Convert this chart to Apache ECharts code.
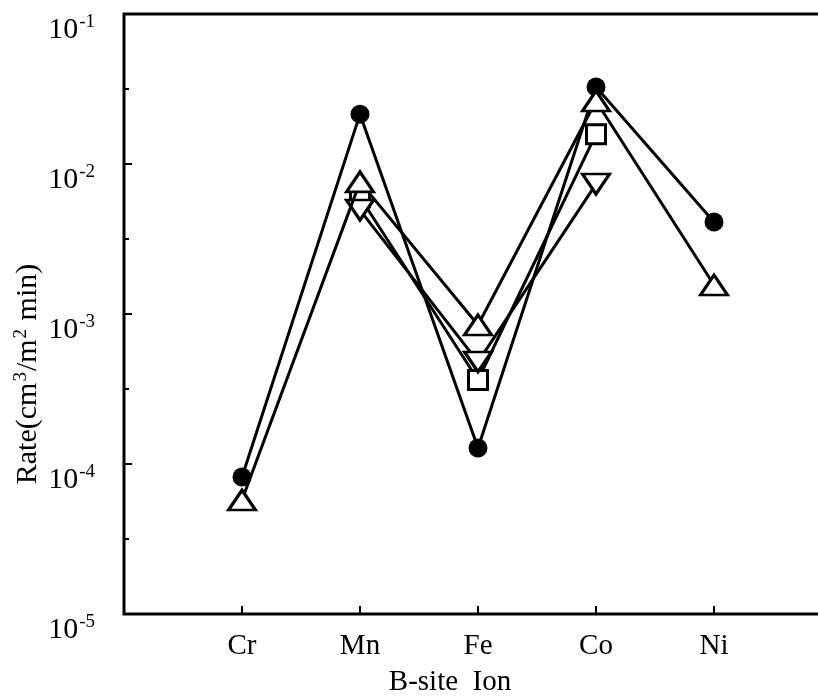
<!DOCTYPE html>
<html>
<head>
<meta charset="utf-8">
<script src="https://cdn.jsdelivr.net/npm/echarts@6/dist/echarts.min.js"></script>
<style>
  html, body { margin: 0; padding: 0; background: #fff; overflow: hidden; }
  /* plot frame runs past the right edge of the page */
  #chart { width: 832px; height: 696px; }
</style>
</head>
<body>
<div id="chart"></div>
<script>
// B-site ions along the x axis (positions 1..5)
const ions = ['Cr', 'Mn', 'Fe', 'Co', 'Ni'];
const ionPos = [1, 2, 3, 4, 5];

// Rates, cm3/(m2 min); null where no measurement
const filledCircle = [8.2e-5, 0.0215, 1.28e-4, 0.0326, 0.0041];
const openTriangle = [5.75e-5, 0.0076, 8.45e-4, 0.0263, 0.00156];
const openSquare = [null, 0.0060, 3.63e-4, 0.0158, null];
const openDownTriangle = [null, 0.00493, 4.79e-4, 0.00735, null];

// Range of the rate axis (decades)
const rateMin = 1e-5;
const rateMax = 1e-1;
// Exponent range for the half-decade tick marks
const expMin = -5;
const expMax = -1;

const FONT = '"Liberation Serif", "DejaVu Serif", serif';

function pairs(vals) {
  const out = [];
  vals.forEach((v, i) => { if (v !== null) out.push([ionPos[i], v]); });
  return out;
}

function lineSeries(name, vals, symbol, size, filled, rotate, z) {
  return {
    name: name,
    type: 'line',
    data: pairs(vals),
    symbol: symbol,
    symbolSize: size,
    symbolRotate: rotate || 0,
    showAllSymbol: true,
    z: z,
    lineStyle: { color: '#000', width: 3 },
    itemStyle: {
      color: filled ? '#000' : '#fff',
      borderColor: '#000',
      borderWidth: filled ? 0 : 3
    },
    emphasis: { disabled: true },
    animation: false
  };
}

const chart = echarts.init(document.getElementById('chart'), null, { renderer: 'canvas' });

chart.setOption({
  backgroundColor: '#fff',
  animation: false,
  grid: {
    left: 124, top: 14, right: 0, bottom: 82,
    show: true, borderColor: '#000', borderWidth: 3, backgroundColor: 'transparent'
  },
  xAxis: {
    type: 'value',
    min: 0, max: 6, interval: 1,
    axisLine: { show: false },
    splitLine: { show: false },
    axisTick: { show: true, inside: true, length: 8, lineStyle: { color: '#000', width: 2 }, customValues: ionPos },
    axisLabel: {
      customValues: ionPos,
      margin: 18,
      color: '#000',
      fontFamily: FONT,
      fontSize: 29,
      formatter: v => ions[Math.round(v) - 1] || ''
    }
  },
  yAxis: [
    {
      type: 'log',
      logBase: 10,
      min: rateMin, max: rateMax,
      position: 'left',
      axisLine: { show: false },
      splitLine: { show: false },
      axisTick: { show: true, inside: true, length: 8, lineStyle: { color: '#000', width: 2 } },
      minorTick: { show: false },
      axisLabel: {
        margin: 29,
        color: '#000',
        fontFamily: FONT,
        padding: [32, 0, 0, 0],
        formatter: v => '{b|10}{s|' + Math.round(Math.log10(v)) + '}',
        rich: {
          b: { fontFamily: FONT, fontSize: 30, color: '#000' },
          s: { fontFamily: FONT, fontSize: 19, color: '#000', padding: [0, 0, 16, 1] }
        }
      }
    },
    {
      // half-decade marks, in exponent units
      type: 'value',
      min: expMin, max: expMax, interval: 0.5,
      position: 'left',
      offset: 0,
      axisLine: { show: false },
      splitLine: { show: false },
      axisLabel: { show: false },
      axisTick: { show: true, inside: true, length: 5, lineStyle: { color: '#000', width: 2 } }
    }
  ],
  graphic: [
    {
      type: 'text',
      x: 28, y: 374,
      rotation: Math.PI / 2,
      style: {
        text: '{t|Rate(cm}{s|3}{t|/m}{s|2}{t| min)}',
        align: 'center',
        verticalAlign: 'middle',
        rich: {
          t: { fontFamily: FONT, fontSize: 30, fill: '#000' },
          s: { fontFamily: FONT, fontSize: 19, fill: '#000', padding: [0, 1, 14, 1] }
        }
      }
    },
    {
      type: 'text',
      x: 450, y: 682,
      style: {
        text: 'B-site  Ion',
        align: 'center',
        verticalAlign: 'middle',
        font: '29px ' + FONT,
        fill: '#000'
      }
    }
  ],
  series: [
    lineSeries('square', openSquare, 'rect', 19, false, 0, 2),
    lineSeries('down', openDownTriangle, 'triangle', [27, 20], false, 180, 3),
    lineSeries('circle', filledCircle, 'circle', 19, true, 0, 4),
    lineSeries('up', openTriangle, 'triangle', [27, 20], false, 0, 5)
  ]
});
</script>
</body>
</html>
